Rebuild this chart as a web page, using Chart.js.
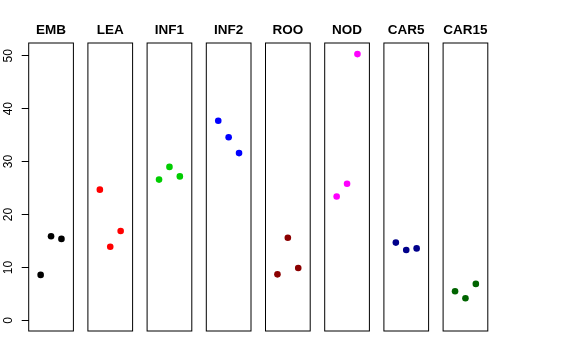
<!DOCTYPE html>
<html>
<head>
<meta charset="utf-8">
<script src="https://cdn.jsdelivr.net/npm/chart.js@4/dist/chart.umd.min.js"></script>
<style>
  body { margin: 0; background: #fff; }
  #wrap { position: relative; width: 576px; height: 360px; }
  #wrap canvas { position: absolute; left: 0; top: 0; }
</style>
</head>
<body>
<div id="wrap"></div>
<script>
// panel names and the three replicate values of each
const groups = ['EMB', 'LEA', 'INF1', 'INF2', 'ROO', 'NOD', 'CAR5', 'CAR15'];
const emb = [8.6, 15.9, 15.4];
const lea = [24.7, 13.9, 16.9];
const inf1 = [26.6, 29.0, 27.2];
const inf2 = [37.7, 34.6, 31.6];
const roo = [8.7, 15.6, 9.9];
const nod = [23.4, 25.8, 50.3];
const car5 = [14.7, 13.3, 13.6];
const car15 = [5.5, 4.2, 6.9];
const yTicks = [0, 10, 20, 30, 40, 50];

const values = [emb, lea, inf1, inf2, roo, nod, car5, car15];
const colors = ['#000000', '#ff0000', '#00cd00', '#0000ff', '#8b0000', '#ff00ff', '#00008b', '#006400'];

// box around each panel + rotated y labels on the first one
const boxPlugin = {
  id: 'box',
  afterDraw(chart) {
    const a = chart.chartArea;
    const ctx = chart.ctx;
    ctx.save();
    ctx.strokeStyle = '#000';
    ctx.lineWidth = 1;
    ctx.strokeRect(a.left, a.top, a.right - a.left, a.bottom - a.top);
    if (chart.options.plugins.box.labels) {
      const y = chart.scales.y;
      ctx.fillStyle = '#000';
      ctx.font = '12px "Liberation Sans", Arial, sans-serif';
      ctx.textAlign = 'center';
      ctx.textBaseline = 'middle';
      yTicks.forEach(v => {
        ctx.save();
        ctx.translate(a.left - 20, y.getPixelForValue(v));
        ctx.rotate(-Math.PI / 2);
        ctx.fillText(String(v), 0, 0);
        ctx.restore();
      });
    }
    ctx.restore();
  }
};

const wrap = document.getElementById('wrap');

groups.forEach((name, i) => {
  const canvas = document.createElement('canvas');
  canvas.width = 576;
  canvas.height = 360;
  wrap.appendChild(canvas);

  const left = 28.7 + 59.2 * i;
  const right = 576 - (left + 44.7);
  const first = i === 0;

  new Chart(canvas.getContext('2d'), {
    type: 'scatter',
    data: {
      datasets: [{
        data: values[i].map((v, j) => ({ x: j + 1, y: v })),
        backgroundColor: colors[i],
        borderWidth: 0,
        pointRadius: 3.3
      }]
    },
    options: {
      responsive: false,
      animation: false,
      devicePixelRatio: 1,
      layout: { padding: { left: left, right: right, top: 0, bottom: 29 } },
      plugins: {
        legend: { display: false },
        tooltip: { enabled: false },
        title: {
          display: true,
          text: name,
          color: '#000',
          font: { family: '"Liberation Sans", Arial, sans-serif', weight: 'bold', size: 13.5 },
          padding: { top: 22.5, bottom: 4.3 }
        },
        box: { labels: first }
      },
      scales: {
        x: { type: 'linear', min: -0.15, max: 4.15, display: false },
        y: {
          type: 'linear',
          min: -2.0,
          max: 52.4,
          display: first,
          afterFit: s => { s.width = 0; },
          afterBuildTicks: s => { s.ticks = yTicks.map(v => ({ value: v })); },
          ticks: { display: false },
          grid: { drawOnChartArea: false, drawTicks: true, tickLength: 7, color: '#000' },
          border: { display: false }
        }
      }
    },
    plugins: [boxPlugin]
  });
});
</script>
</body>
</html>
